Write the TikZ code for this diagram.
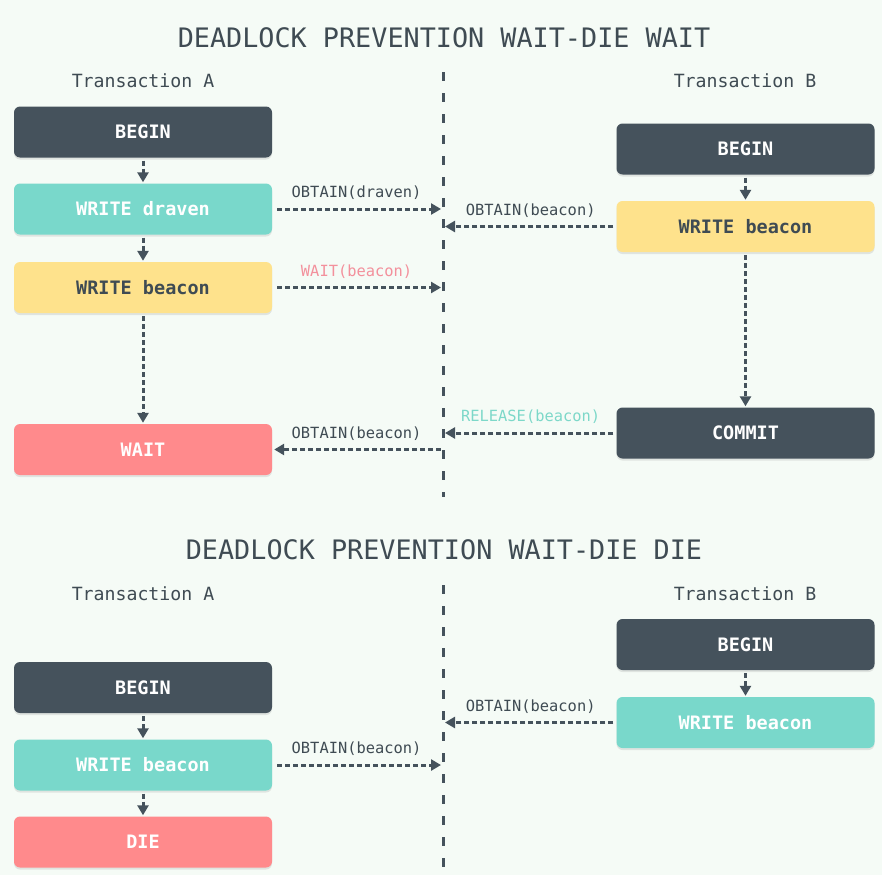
\documentclass[tikz,border=0pt]{standalone}
\usepackage{fontspec}
\setmonofont{DejaVu Sans Mono}
\usetikzlibrary{arrows.meta,shadows}
\definecolor{bgc}{HTML}{F5FBF6}
\definecolor{darkc}{HTML}{45525C}
\definecolor{tealc}{HTML}{79D8CB}
\definecolor{yellc}{HTML}{FEE28C}
\definecolor{pinkc}{HTML}{FF8A8C}
\definecolor{txtc}{HTML}{3F4B53}
\definecolor{pinkl}{HTML}{F3909C}
\definecolor{teall}{HTML}{7DD8C9}
\tikzset{
  box/.style={rectangle, rounded corners=6pt, minimum width=258pt, minimum height=51pt, inner sep=0pt,
    font=\ttfamily\bfseries\fontsize{18.5}{22}\selectfont,
    drop shadow={opacity=0.18, shadow xshift=0pt, shadow yshift=-2pt}},
  darkbox/.style={box, fill=darkc, text=white},
  tealbox/.style={box, fill=tealc, text=white},
  yellbox/.style={box, fill=yellc, text=txtc},
  pinkbox/.style={box, fill=pinkc, text=white},
  ttl/.style={font=\ttfamily\fontsize{26.8}{30}\selectfont, text=txtc},
  trn/.style={font=\ttfamily\fontsize{18.2}{21}\selectfont, text=txtc},
  lbl/.style={font=\ttfamily\fontsize{15.4}{18}\selectfont, text=txtc},
  conn/.style={draw=darkc, line width=3pt, dash pattern=on 5pt off 3pt,
    -{Triangle[length=10pt,width=11pt]}},
  midline/.style={draw=darkc, line width=3pt, dash pattern=on 9pt off 12pt},
}
\begin{document}
\begin{tikzpicture}[x=1pt,y=-1pt]
\fill[bgc] (0,0) rectangle (882,875);
\useasboundingbox (0,0) rectangle (882,875);

% ---------- top section ----------
\node[ttl] (t1) at (444,38) {DEADLOCK PREVENTION WAIT-DIE WAIT};
\node[trn] (ta1) at (143,81) {Transaction A};
\node[trn] (tb1) at (745,81) {Transaction B};
\coordinate (m1t) at (443,72);
\coordinate (m1b) at (443,497);
\draw[midline] (m1t) -- (m1b);

\node[darkbox] (a1) at (143,132) {BEGIN};
\node[tealbox] (a2) at (143,209) {WRITE draven};
\node[yellbox] (a3) at (143,287.5) {WRITE beacon};
\node[pinkbox] (a4) at (143,449.5) {WAIT};

\node[darkbox] (b1) at (745.5,149) {BEGIN};
\node[yellbox] (b2) at (745.5,226.5) {WRITE beacon};
\node[darkbox] (b3) at (745.5,433) {COMMIT};

\draw[conn, shorten <=3pt, shorten >=1pt] (a1) -- (a2);
\draw[conn, shorten <=3pt, shorten >=1pt] (a2) -- (a3);
\draw[conn, shorten <=3pt, shorten >=1pt] (a3) -- (a4);
\draw[conn, shorten <=3pt, shorten >=1pt] (b1) -- (b2);
\draw[conn, shorten <=3pt, shorten >=1pt] (b2) -- (b3);

\coordinate (p1) at (441,209);
\coordinate (p2) at (445,226.5);
\coordinate (p3) at (441,287.5);
\coordinate (p4) at (445,433);
\coordinate (p5) at (441,449.5);

\draw[conn, shorten <=5pt] (a2.east) -- (p1)
  node[lbl, midway, yshift=16pt] (l1) {OBTAIN(draven)};
\draw[conn, shorten <=3pt] (b2.west) -- (p2)
  node[lbl, midway, yshift=16pt] (l2) {OBTAIN(beacon)};
\draw[conn, shorten <=5pt] (a3.east) -- (p3)
  node[lbl, midway, yshift=16pt, text=pinkl] (l3) {WAIT(beacon)};
\draw[conn, shorten <=3pt] (b3.west) -- (p4)
  node[lbl, midway, yshift=16pt, text=teall] (l4) {RELEASE(beacon)};
\draw[conn, shorten >=2pt] (p5) -- (a4.east)
  node[lbl, midway, yshift=16pt] (l5) {OBTAIN(beacon)};

% ---------- bottom section ----------
\node[ttl] (t2) at (444,550) {DEADLOCK PREVENTION WAIT-DIE DIE};
\node[trn] (ta2) at (143,594) {Transaction A};
\node[trn] (tb2) at (745,594) {Transaction B};
\coordinate (m2t) at (443,585);
\coordinate (m2b) at (443,868);
\draw[midline] (m2t) -- (m2b);

\node[darkbox] (c1) at (143,687.5) {BEGIN};
\node[tealbox] (c2) at (143,765) {WRITE beacon};
\node[pinkbox] (c3) at (143,842) {DIE};

\node[darkbox] (d1) at (745.5,644.5) {BEGIN};
\node[tealbox] (d2) at (745.5,722.5) {WRITE beacon};

\draw[conn, shorten <=3pt, shorten >=1pt] (c1) -- (c2);
\draw[conn, shorten <=3pt, shorten >=1pt] (c2) -- (c3);
\draw[conn, shorten <=3pt, shorten >=1pt] (d1) -- (d2);

\coordinate (q1) at (445,722.5);
\coordinate (q2) at (441,765);
\draw[conn, shorten <=3pt] (d2.west) -- (q1)
  node[lbl, midway, yshift=16pt] (l6) {OBTAIN(beacon)};
\draw[conn, shorten <=5pt] (c2.east) -- (q2)
  node[lbl, midway, yshift=16pt] (l7) {OBTAIN(beacon)};
\end{tikzpicture}
\end{document}
